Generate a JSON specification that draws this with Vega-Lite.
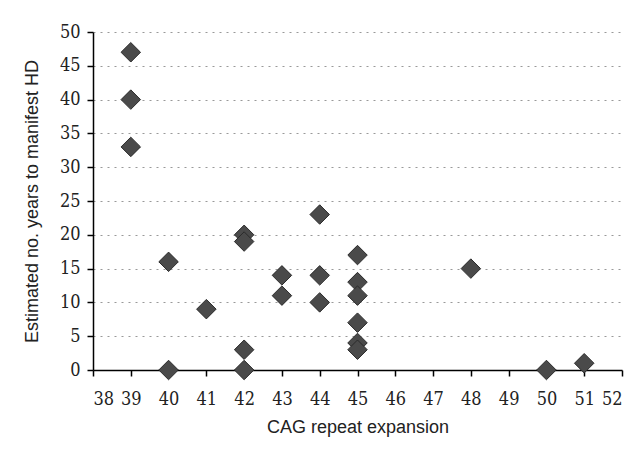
{
  "$schema": "https://vega.github.io/schema/vega-lite/v6.json",
  "width": 529,
  "height": 338,
  "autosize": {"type": "none"},
  "padding": {"left": 93, "top": 32, "right": 14, "bottom": 79},
  "background": "white",
  "config": {
    "view": {"stroke": null},
    "axis": {
      "domainColor": "black",
      "domainWidth": 1.5,
      "tickColor": "black",
      "tickWidth": 1.5,
      "tickSize": 6,
      "labelFont": "DejaVu Serif Condensed",
      "labelFontSize": 18,
      "labelColor": "#222",
      "titleFont": "Liberation Sans",
      "titleFontSize": 18,
      "titleFontWeight": "normal",
      "titleColor": "#222"
    }
  },
  "data": {
    "values": [
      {"cag": 39, "years": 47}, {"cag": 39, "years": 40}, {"cag": 39, "years": 33},
      {"cag": 40, "years": 16}, {"cag": 40, "years": 0},
      {"cag": 41, "years": 9},
      {"cag": 42, "years": 20}, {"cag": 42, "years": 19}, {"cag": 42, "years": 3}, {"cag": 42, "years": 0},
      {"cag": 43, "years": 14}, {"cag": 43, "years": 11},
      {"cag": 44, "years": 23}, {"cag": 44, "years": 14}, {"cag": 44, "years": 10},
      {"cag": 45, "years": 17}, {"cag": 45, "years": 13}, {"cag": 45, "years": 11}, {"cag": 45, "years": 7}, {"cag": 45, "years": 4}, {"cag": 45, "years": 3},
      {"cag": 48, "years": 15},
      {"cag": 50, "years": 0},
      {"cag": 51, "years": 1}
    ]
  },
  "mark": {"type": "point", "shape": "diamond", "filled": true, "size": 380, "fill": "#4a4a4a", "stroke": "#2b2b2b", "strokeWidth": 1, "opacity": 1},
  "encoding": {
    "x": {
      "field": "cag", "type": "quantitative",
      "scale": {"domain": [38, 52], "nice": false, "zero": false},
      "axis": {"values": [38,39,40,41,42,43,44,45,46,47,48,49,50,51,52], "grid": false, "labelPadding": 14, "title": "CAG repeat expansion", "titlePadding": 10}
    },
    "y": {
      "field": "years", "type": "quantitative",
      "scale": {"domain": [0, 50], "nice": false},
      "axis": {"values": [0,5,10,15,20,25,30,35,40,45,50], "grid": true, "gridColor": "#999", "gridDash": [2, 5], "gridWidth": 1.2, "labelPadding": 7, "title": "Estimated no. years to manifest HD", "titlePadding": 18}
    }
  }
}
